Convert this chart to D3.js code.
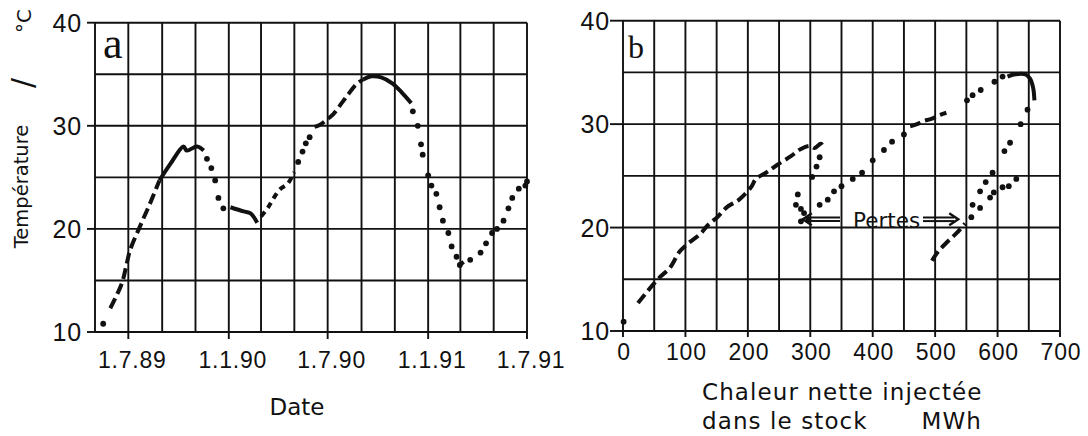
<!DOCTYPE html>
<html><head><meta charset="utf-8">
<script src="https://cdn.jsdelivr.net/npm/d3@7"></script>
<style>html,body{margin:0;padding:0;background:#fff;} svg{display:block;}</style>
</head><body>
<svg id="chart" width="1088" height="436"></svg>
<script>
// ---------- Panel a : temperature vs date ----------
const aStart = [["1989-05-16", 10.8]];
const aDash1 = [["1989-05-29",12.3],["1989-06-19",14.7],["1989-06-28",16.6],["1989-07-04",17.9],["1989-07-22",20.2],["1989-08-10",22.5],["1989-08-27",24.7]];
const aSolid1 = [["1989-08-27",24.7],["1989-09-16",26.3],["1989-10-10",28.0],["1989-10-16",27.6],["1989-11-04",28.0],["1989-11-16",27.6]];
const aDots1 = [["1989-11-22",26.8],["1989-11-30",25.9],["1989-12-07",24.7],["1989-12-13",23.0],["1989-12-22",22.0]];
const aSolid2 = [["1990-01-04",22.1],["1990-01-28",21.7],["1990-02-10",21.5],["1990-02-22",20.6]];
const aShort1 = [["1990-03-01",21.2],["1990-03-13",22.0],["1990-03-22",22.8],["1990-04-04",23.8],["1990-04-19",24.4],["1990-05-01",25.5]];
const aDots2 = [["1990-05-08",26.5],["1990-05-16",27.5],["1990-05-22",28.3],["1990-05-29",28.9]];
const aDash2 = [["1990-06-07",29.9],["1990-06-17",30.1],["1990-07-02",30.7],["1990-07-11",31.1],["1990-07-28",32.3],["1990-08-07",33.0],["1990-08-22",34.0],["1990-09-04",34.5]];
const aSolid3 = [["1990-09-04",34.5],["1990-09-19",34.8],["1990-10-07",34.7],["1990-10-28",34.1],["1990-11-16",33.1],["1990-12-01",32.2]];
const aDots3 = [["1990-12-04",31.4],["1990-12-13",30.0],["1990-12-19",28.2],["1990-12-22",27.2],["1991-01-01",25.2],["1991-01-07",24.2],["1991-01-16",23.4],["1991-01-22",22.1],["1991-01-28",20.8],["1991-02-07",19.6],["1991-02-13",18.3],["1991-02-22",17.3],["1991-02-28",16.5]];
const aSolid4 = [["1991-02-28",16.5],["1991-03-07",16.8]];
const aDots4 = [["1991-03-19",17.0],["1991-04-07",17.7],["1991-04-17",18.6],["1991-04-28",19.6],["1991-05-07",20.0],["1991-05-19",20.8],["1991-05-28",22.0],["1991-06-04",23.0],["1991-06-16",23.9],["1991-06-28",24.2],["1991-07-01",24.6]];

const dateDomain = ["1989-05-01","1991-07-01"];
const dateTicks = ["1989-07-01","1990-01-01","1990-07-01","1991-01-01","1991-07-01"];
const dateTickLabels = ["1.7.89","1.1.90","1.7.90","1.1.91","1.7.91"];

// ---------- Panel b : temperature vs net heat injected (MWh) ----------
const bStart = [[1,10.9]];
const bDash1 = [[24,12.7],[40,13.9],[59,15.2],[75,16.1],[91,17.7],[105,18.5],[124,19.4],[137,20.3],[151,21.0],[167,22.0],[186,22.7],[205,23.9],[213,24.7],[229,25.3],[248,26.1],[269,26.9],[285,27.6],[299,27.9],[307,27.7],[317,28.1],[322,27.7]];
const bDots1 = [[315,26.8],[310,25.9],[303,24.9],[280,23.2],[277,22.2],[285,21.8],[290,21.4],[285,20.6],[297,20.8]];
const bDots2 = [[315,22.2],[328,22.7],[338,23.5],[350,24.0],[368,24.7],[383,25.3],[400,26.5],[418,27.5],[431,28.3],[450,29.0]];
const bDash2 = [[460,29.8],[471,30.0],[481,30.3],[494,30.5],[508,30.9],[518,31.1]];
const bDots3 = [[551,32.3],[560,32.8],[573,33.3],[595,34.1],[608,34.6]];
const bSolid1 = [[616,34.6],[626,34.8],[645,34.8],[652,34.4],[657,33.5],[659,32.3]];
const bDots4 = [[648,31.4],[637,30.0],[620,28.2],[611,27.4],[592,25.3],[581,24.4],[572,23.5],[560,22.2],[558,21.0]];
const bDash3 = [[495,16.8],[505,17.7],[521,18.7],[535,19.5],[548,20.4]];
const bDots5 = [[572,21.9],[588,22.9],[594,23.4],[608,23.9],[618,24.0],[630,24.7]];

const heatTicks = [0,100,200,300,400,500,600,700];
const tempTicks = [10,20,30,40];
const lossPoints = [[288,20.8],[537,20.8]];

// ---------- drawing ----------
const parse = d3.timeParse("%Y-%m-%d");
const svg = d3.select("#chart");
svg.append("rect").attr("width",1088).attr("height",436).attr("fill","#fff");
const INK = "#111";
const DIGIT_FONT = "'Liberation Sans', Arial, sans-serif";
const WORD_FONT = "'DejaVu Sans', sans-serif";

const xA = d3.scaleTime().domain(dateDomain.map(parse)).range([95, 527]);
const yA = d3.scaleLinear().domain([10,40]).range([332, 22.7]);
const xB = d3.scaleLinear().domain([0,700]).range([623, 1060]);
const yB = d3.scaleLinear().domain([10,40]).range([331, 20.7]);

function grid(g, x, y, xs) {
  const [x0,x1] = x.range(), [y0,y1] = y.range();
  g.selectAll(null).data(xs).join("line")
    .attr("x1", d=>x(d)).attr("x2", d=>x(d)).attr("y1", y0).attr("y2", y1)
    .attr("stroke", INK).attr("stroke-width", 1.9);
  g.selectAll(null).data(d3.range(10, 41, 5)).join("line")
    .attr("x1", x0).attr("x2", x1).attr("y1", d=>y(d)).attr("y2", d=>y(d))
    .attr("stroke", INK).attr("stroke-width", 1.9);
}

function series(g, data, x, y, style) {
  if (style === "dot") {
    g.selectAll(null).data(data).join("circle")
      .attr("cx", d=>x(d[0])).attr("cy", d=>y(d[1])).attr("r", 2.9).attr("fill", INK);
  } else {
    const line = d3.line().x(d=>x(d[0])).y(d=>y(d[1])).curve(d3.curveCatmullRom);
    const p = g.append("path").attr("d", line(data)).attr("fill","none")
      .attr("stroke", INK).attr("stroke-width", 4);
    if (style === "dash") p.attr("stroke-dasharray", "11,5");
    if (style === "short") p.attr("stroke-dasharray", "6,5");
  }
}

// Panel a
const gA = svg.append("g");
grid(gA, xA, yA, d3.timeMonth.every(2).range(parse(dateDomain[0]), d3.timeDay.offset(parse(dateDomain[1]),1)));
gA.selectAll(null).data(dateTicks.map(parse)).join("line")
  .attr("x1", d=>xA(d)).attr("x2", d=>xA(d)).attr("y1", yA(10)).attr("y2", yA(10)+7)
  .attr("stroke", INK).attr("stroke-width", 1.9);
gA.selectAll(null).data(tempTicks).join("line")
  .attr("x1", 87).attr("x2", 95).attr("y1", d=>yA(d)).attr("y2", d=>yA(d))
  .attr("stroke", INK).attr("stroke-width", 1.9);
gA.selectAll(null).data(tempTicks).join("text")
  .attr("x", 82).attr("y", d=>yA(d)).attr("dy","0.36em").attr("text-anchor","end")
  .attr("font-family", DIGIT_FONT).attr("font-size", 25).attr("letter-spacing", 0.8)
  .attr("fill", INK).text(d=>d);
gA.selectAll(null).data(dateTicks).join("text")
  .attr("x", (d)=>xA(parse(d))+4).attr("y", 368).attr("text-anchor","middle")
  .attr("font-family", DIGIT_FONT).attr("font-size", 23).attr("letter-spacing", 0.8)
  .attr("fill", INK).text((d,i)=>dateTickLabels[i]);

[[aStart,"dot"],[aDash1,"dash"],[aSolid1,"solid"],[aDots1,"dot"],[aSolid2,"solid"],[aShort1,"short"],
 [aDots2,"dot"],[aDash2,"dash"],[aSolid3,"solid"],[aDots3,"dot"],[aSolid4,"solid"],[aDots4,"dot"]]
 .forEach(([d,s]) => series(gA, d.map(p=>[parse(p[0]), p[1]]), xA, yA, s));

gA.append("text").attr("x", 103).attr("y", 58).attr("font-family","'Liberation Serif', serif")
  .attr("font-size", 44).attr("fill", INK).text("a");

// Panel b
const gB = svg.append("g");
grid(gB, xB, yB, d3.range(0, 701, 50));
gB.selectAll(null).data(heatTicks).join("line")
  .attr("x1", d=>xB(d)).attr("x2", d=>xB(d)).attr("y1", yB(10)).attr("y2", yB(10)+6)
  .attr("stroke", INK).attr("stroke-width", 1.9);
gB.selectAll(null).data(tempTicks).join("line")
  .attr("x1", 610).attr("x2", 623).attr("y1", d=>yB(d)).attr("y2", d=>yB(d))
  .attr("stroke", INK).attr("stroke-width", 1.9);
gB.selectAll(null).data(tempTicks).join("text")
  .attr("x", 610).attr("y", d=>yB(d)).attr("dy","0.36em").attr("text-anchor","end")
  .attr("font-family", DIGIT_FONT).attr("font-size", 25).attr("letter-spacing", 0.8)
  .attr("fill", INK).text(d=>d);
gB.selectAll(null).data(heatTicks).join("text")
  .attr("x", d=>xB(d)+1).attr("y", 360).attr("text-anchor","middle")
  .attr("font-family", DIGIT_FONT).attr("font-size", 23).attr("letter-spacing", 0.8)
  .attr("fill", INK).text(d=>d);

[[bStart,"dot"],[bDash1,"dash"],[bDots1,"dot"],[bDots2,"dot"],[bDash2,"dash"],[bDots3,"dot"],
 [bSolid1,"solid"],[bDots4,"dot"],[bDash3,"dash"],[bDots5,"dot"]]
 .forEach(([d,s]) => series(gB, d, xB, yB, s));

gB.append("text").attr("x", 628).attr("y", 58).attr("font-family","'Liberation Serif', serif")
  .attr("font-size", 32).attr("fill", INK).text("b");

// "Pertes" annotation with arrows
gB.append("text").attr("x", 853).attr("y", 228).attr("font-family", WORD_FONT)
  .attr("font-size", 21.5).attr("fill", INK).text("Pertes");
function arrow(tipX, tipY, tailX) {
  const dir = Math.sign(tailX - tipX);
  const g = gB.append("g").attr("stroke", INK).attr("fill","none").attr("stroke-width", 2);
  [-1.8, 1.8].forEach(o => g.append("line").attr("x1", tipX + dir*4).attr("x2", tailX)
    .attr("y1", tipY + o).attr("y2", tipY + o));
  g.append("path").attr("d", `M${tipX+dir*9},${tipY-6} L${tipX},${tipY} L${tipX+dir*9},${tipY+6}`)
    .attr("stroke-width", 2.4);
}
arrow(xB(lossPoints[0][0]), yB(lossPoints[0][1]), 840);
arrow(xB(lossPoints[1][0]), yB(lossPoints[1][1]), 923);

// Axis titles
svg.append("text").attr("transform","translate(28,186.5) rotate(-90)").attr("text-anchor","middle")
  .attr("font-family", WORD_FONT).attr("font-size", 19.5).attr("fill", INK).text("Température");
svg.append("text").attr("transform","translate(33,83) rotate(-90)").attr("text-anchor","middle")
  .attr("font-family", WORD_FONT).attr("font-size", 30).attr("fill", INK).text("/");
svg.append("text").attr("transform","translate(31,21) rotate(-90)").attr("text-anchor","middle")
  .attr("font-family", WORD_FONT).attr("font-size", 20).attr("fill", INK).text("°C");
svg.append("text").attr("x", 297).attr("y", 415).attr("text-anchor","middle")
  .attr("font-family", WORD_FONT).attr("font-size", 23).attr("fill", INK).text("Date");
svg.append("text").attr("x", 702).attr("y", 400)
  .attr("font-family", WORD_FONT).attr("font-size", 23).attr("letter-spacing", 1.1)
  .attr("fill", INK).text("Chaleur nette injectée");
svg.append("text").attr("x", 702).attr("y", 429)
  .attr("font-family", WORD_FONT).attr("font-size", 23).attr("letter-spacing", 1.1)
  .attr("fill", INK).text("dans le stock");
svg.append("text").attr("x", 982).attr("y", 429).attr("text-anchor","end")
  .attr("font-family", WORD_FONT).attr("font-size", 23).attr("letter-spacing", 1.1)
  .attr("fill", INK).text("MWh");
</script>
</body></html>
